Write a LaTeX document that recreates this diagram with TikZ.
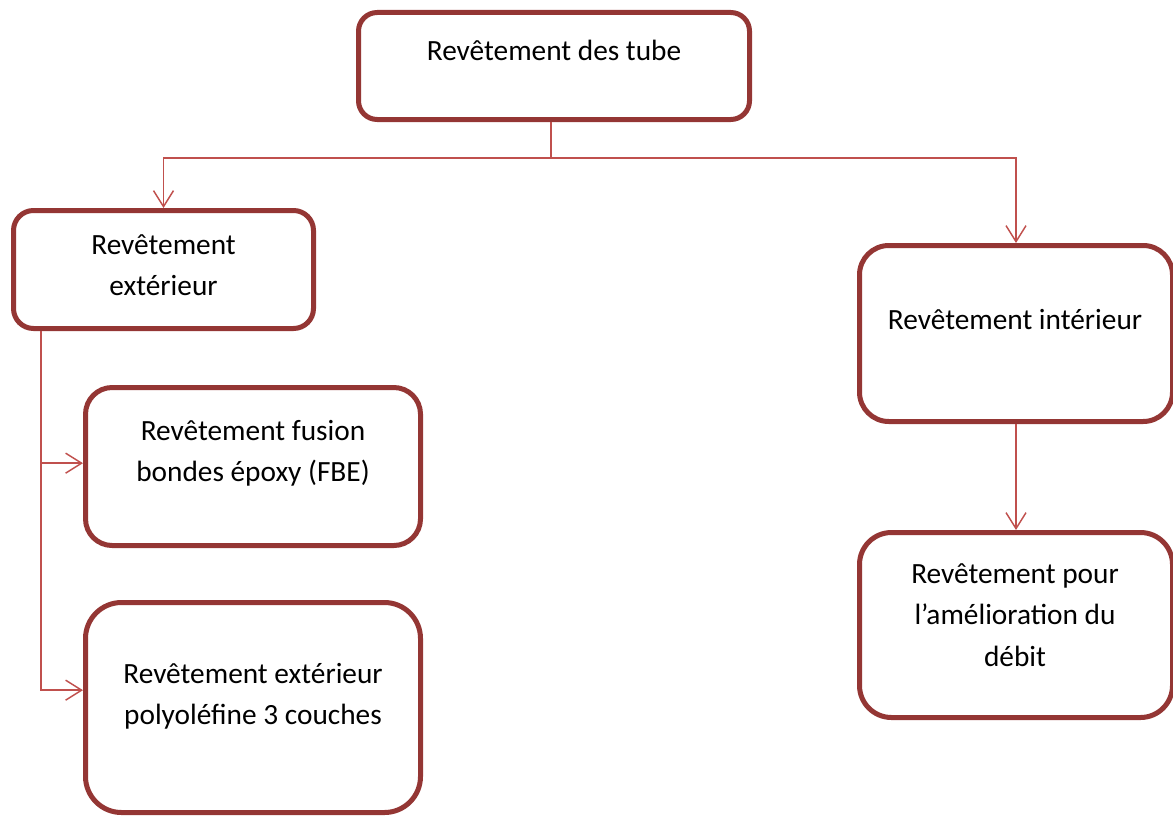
\documentclass[tikz,border=0pt]{standalone}
\usepackage{fontspec}
\setmainfont{Carlito}
\usetikzlibrary{arrows.meta, positioning, calc}
\definecolor{boxred}{RGB}{148,54,52}
\definecolor{linkred}{RGB}{192,80,77}

\begin{document}
\begin{tikzpicture}[
    x=0.75pt, y=-0.75pt,
    box/.style={draw=boxred, line width=3.75pt, fill=white, inner sep=0pt, rounded corners=#1},
    txt/.style={font=\fontsize{22}{31}\selectfont, align=center, inner sep=0pt},
    link/.style={draw=linkred, line width=1.1pt, -{Straight Barb[length=12pt, width=15pt]}}
]
    \useasboundingbox (0,0) rectangle (1173,817);

    % Boxes
    \node[box=14pt, minimum width=293.25pt, minimum height=80.25pt] (tubes) at (554,66) {};
    \node[box=15pt, minimum width=225pt, minimum height=88.5pt] (ext) at (163.5,269.5) {};
    \node[box=20pt, minimum width=251.25pt, minimum height=118.5pt] (fbe) at (253,466.5) {};
    \node[box=27pt, minimum width=251.25pt, minimum height=157.5pt] (poly) at (253,707.5) {};
    \node[box=22pt, minimum width=234.75pt, minimum height=132pt] (int) at (1016,333.5) {};
    \node[box=24pt, minimum width=234.75pt, minimum height=138.75pt] (debit) at (1016,625) {};

    % Texts
    \node[txt] (tubes-txt) at (554,50) {Revêtement des tube};
    \node[txt] (ext-txt) at (163.5,265) {Revêtement\\extérieur};
    \node[txt] (fbe-txt) at (253,453) {Revêtement fusion\\bondes époxy (FBE)};
    \node[txt] (poly-txt) at (253,696) {Revêtement extérieur\\polyoléfine 3 couches};
    \node[txt] (int-txt) at (1015,320) {Revêtement intérieur};
    \node[txt] (debit-txt) at (1015,615) {Revêtement pour\\l’amélioration du\\débit};

    % Connections
    \coordinate (split) at (551,158);
    \coordinate (trunk) at (41,331);
    \draw[draw=linkred, line width=1.1pt] (split |- tubes.south) -- (split);
    \draw[link] (split) -| (ext.north);
    \draw[link] (split) -| (int.north);
    \draw[link] (int) -- (debit);
    \draw[link] (trunk) |- ([yshift=2.5pt]fbe.west);
    \draw[link] (trunk) |- ([yshift=13pt]poly.west);
\end{tikzpicture}
\end{document}
